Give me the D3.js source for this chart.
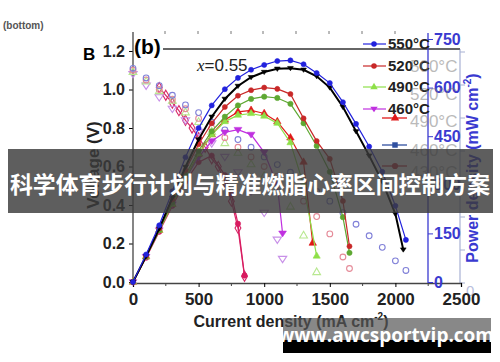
<!DOCTYPE html>
<html>
<head>
<meta charset="utf-8">
<script src="https://cdn.jsdelivr.net/npm/d3@7"></script>
<style>
  body { margin: 0; background: #fff; }
  svg { display: block; font-family: "Liberation Sans", Arial, sans-serif; }
</style>
</head>
<body>
<div id="graph"></div>
<script>
// values (current in mA cm-2, voltage in V, power in mW cm-2)
var cur550 = [0,100,200,300,400,500,600,700,800,900,1000,1100,1200,1300,1400,1500,1600,1700,1800,1900,2000,2080];
var volt550 = [1.11,1.06,1.02,0.97,0.92,0.88,0.83,0.79,0.74,0.70,0.65,0.61,0.57,0.52,0.47,0.42,0.36,0.30,0.24,0.18,0.11,0.06];
var pow550 = [0,85,175,280,385,475,545,595,630,655,670,682,684,672,645,614,555,488,418,340,235,130];

var curBlack = [0,100,200,300,400,500,600,700,800,900,1000,1100,1200,1300,1400,1500,1600,1700,1800,1900,2000,2060];
var powBlack = [0,80,165,260,355,440,510,565,605,632,648,658,660,655,635,600,540,465,390,310,210,100];

var cur520 = [0,100,200,300,400,500,600,700,800,900,1000,1100,1200,1300,1400,1500,1600,1650];
var volt520 = [1.10,1.05,1.00,0.95,0.90,0.85,0.80,0.75,0.70,0.65,0.60,0.55,0.49,0.42,0.34,0.25,0.13,0.07];
var pow520 = [0,80,165,255,345,425,490,540,575,592,600,596,580,505,435,380,250,110];
var powOlive = [0,78,160,245,330,405,465,510,545,565,572,568,550,490,420,340,200,90];

var cur490 = [0,100,200,300,400,500,600,700,800,900,1000,1100,1200,1300,1400];
var volt490 = [1.09,1.04,0.99,0.94,0.88,0.83,0.78,0.72,0.67,0.61,0.55,0.48,0.39,0.24,0.05];
var pow490 = [0,78,160,240,320,395,455,495,515,520,512,490,430,300,80];

var curRed = [0,100,200,300,400,500,600,700,800,900,1000,1100,1200,1300,1370];
var powRed = [0,78,160,240,320,395,455,500,525,530,520,495,445,370,120];

var cur460 = [0,100,200,300,400,500,600,700,800,900,1000,1100,1140];
var volt460 = [1.08,1.02,0.96,0.90,0.84,0.78,0.72,0.65,0.57,0.47,0.36,0.22,0.12];
var pow460 = [0,78,160,240,320,385,435,462,470,455,400,300,150];

var cur430v = [200,250,300,350,400,450,500,550,600,650,700,750,800,850];
var volt430 = [1.01,0.97,0.93,0.89,0.84,0.80,0.75,0.70,0.64,0.60,0.52,0.42,0.28,0.03];
var cur430p = [0,100,200,300,400,500,600,700,750,800,850];
var pow430 = [0,75,155,235,310,370,390,330,270,180,20];

var legendLabels = ["550°C", "520°C", "490°C", "460°C"];
var ghostLabels = ["500°C", "520°C", "490°C", "460°C", "430°C"];
var xTicks = [0, 500, 1000, 1500, 2000, 2500];
var vTicks = [0, 0.2, 0.4, 0.6, 0.8, 1.0, 1.2];
var pTicks = [0, 150, 300, 450, 600, 750];

var width = 500,
    height = 362;

var svg = d3.select('#graph')
    .append('svg')
    .attr('width', width)
    .attr('height', height);

var x = d3.scaleLinear().domain([0, 2500]).range([133, 461]);
var yV = d3.scaleLinear().domain([0, 1.2]).range([282, 51]);
var yP = d3.scaleLinear().domain([0, 750]).range([282, 39]);

var blueAxis = '#3a3ad0';

// little labels top left
svg.append('text').attr('x', 3).attr('y', 29)
    .attr('font-size', 10).attr('font-weight', 'bold').attr('fill', '#555')
    .text('(bottom)');
svg.append('text').attr('x', 83).attr('y', 60)
    .attr('font-size', 17).attr('font-weight', 'bold')
    .text('B');

// ghost top axis ticks and frame line
var ghostTop = svg.append('g');
[165, 198, 231, 263, 296, 329, 362, 395].forEach(function(px) {
    ghostTop.append('line').attr('x1', px).attr('x2', px).attr('y1', 31).attr('y2', 34)
        .attr('stroke', '#777').attr('stroke-width', 1);
});
svg.append('line').attr('x1', 163).attr('x2', 460).attr('y1', 49).attr('y2', 49)
    .attr('stroke', '#333').attr('stroke-width', 1.5);

// ghost right frame axis
var ghostRight = svg.append('g').attr('opacity', 0.6);
ghostRight.append('line').attr('x1', 460).attr('x2', 460).attr('y1', 49).attr('y2', 283)
    .attr('stroke', '#6f7fb8').attr('stroke-width', 1.2);
d3.range(0, 8).forEach(function(i) {
    var py = 283 - i * 33;
    ghostRight.append('line').attr('x1', 460).attr('x2', 465).attr('y1', py).attr('y2', py)
        .attr('stroke', '#6f7fb8');
});
ghostRight.append('text').attr('x', 466).attr('y', 296)
    .attr('font-size', 15).attr('fill', '#8a96c8').text('0');

// left axis
var gV = svg.append('g').attr('transform', 'translate(133,0)')
    .call(d3.axisLeft(yV).tickValues(vTicks).tickSize(4).tickFormat(d3.format('.1f')));
gV.select('.domain').remove();
gV.selectAll('text').attr('font-size', 16).attr('font-weight', 'bold')
    .attr('font-family', '"Liberation Sans", Arial, sans-serif').attr('fill', '#222').attr('dx', -1);
svg.append('line').attr('x1', 133).attr('x2', 133).attr('y1', 32).attr('y2', 283)
    .attr('stroke', '#444').attr('stroke-width', 1.3);

// bottom axis
var gX = svg.append('g').attr('transform', 'translate(0,283)')
    .call(d3.axisBottom(x).tickValues(xTicks).tickSize(4).tickFormat(d3.format('d')));
gX.select('.domain').attr('stroke', '#444').attr('stroke-width', 1.3);
gX.selectAll('text').attr('font-size', 17).attr('font-weight', 'bold')
    .attr('font-family', '"Liberation Sans", Arial, sans-serif').attr('fill', '#222').attr('dy', '0.9em');
d3.range(250, 2500, 500).forEach(function(t) {
    svg.append('line').attr('x1', x(t)).attr('x2', x(t)).attr('y1', 283).attr('y2', 286)
        .attr('stroke', '#444');
});

// right power axis
var gP = svg.append('g').attr('transform', 'translate(428,0)')
    .call(d3.axisRight(yP).tickValues(pTicks).tickSize(5));
gP.select('.domain').attr('stroke', blueAxis).attr('stroke-width', 1.3).attr('d', 'M0,33V283');
gP.selectAll('line').attr('stroke', blueAxis);
gP.selectAll('text').attr('font-size', 16).attr('font-weight', 'bold')
    .attr('font-family', '"Liberation Sans", Arial, sans-serif').attr('fill', blueAxis).attr('x', 6);

// axis titles
svg.append('text').attr('transform', 'translate(99,165) rotate(-90)')
    .attr('text-anchor', 'middle').attr('font-size', 17).attr('font-weight', 'bold')
    .attr('fill', '#222').text('Voltage (V)');
var xTitle = svg.append('text').attr('x', 291).attr('y', 327)
    .attr('text-anchor', 'middle').attr('font-size', 16).attr('font-weight', 'bold').attr('fill', '#222');
xTitle.append('tspan').text('Current density (mA cm');
xTitle.append('tspan').attr('font-size', 10).attr('dy', -7).text('-2');
xTitle.append('tspan').attr('dy', 7).text(')');
var pTitle = svg.append('text').attr('transform', 'translate(478,168) rotate(-90)')
    .attr('text-anchor', 'middle').attr('font-size', 16).attr('font-weight', 'bold').attr('fill', blueAxis);
pTitle.append('tspan').text('Power density (mW cm');
pTitle.append('tspan').attr('font-size', 10).attr('dy', -7).text('-2');
pTitle.append('tspan').attr('dy', 7).text(')');

svg.append('text').attr('x', 134).attr('y', 54)
    .attr('font-size', 21).attr('font-weight', 'bold').text('(b)');
var xl = svg.append('text').attr('x', 197).attr('y', 71).attr('font-size', 17).attr('fill', '#222');
xl.append('tspan').attr('font-family', '"Liberation Serif", serif').attr('font-style', 'italic').text('x');
xl.append('tspan').text('=0.55');

// curves
var plot = svg.append('g');

function drawSeries(cur, vals, yScale, color, symType, filled, size, lineW) {
    var pts = cur.map(function(c, i) { return [x(c), yScale(vals[i])]; });
    var g = plot.append('g');
    if (lineW) {
        g.append('path')
            .attr('d', d3.line()(pts))
            .attr('fill', 'none')
            .attr('stroke', color)
            .attr('stroke-width', lineW);
    }
    g.selectAll('path.m')
        .data(pts)
        .enter()
        .append('path')
        .attr('class', 'm')
        .attr('transform', function(d) { return 'translate(' + d[0] + ',' + d[1] + ')'; })
        .attr('d', d3.symbol().type(symType).size(size))
        .attr('fill', filled ? color : 'none')
        .attr('stroke', color)
        .attr('stroke-width', filled ? 0.6 : 1.1);
}

var triDown = {
    draw: function(context, size) {
        var s = Math.sqrt(size / 0.43) / 2;
        context.moveTo(-s, -s * 0.6);
        context.lineTo(s, -s * 0.6);
        context.lineTo(0, s * 0.9);
        context.closePath();
    }
};

// voltage curves (open symbols)
drawSeries(cur430v, volt430, yV, '#d82868', d3.symbolDiamond, false, 30, 1.2);
drawSeries(cur460, volt460, yV, '#c890e8', triDown, false, 30, 0);
drawSeries(cur490, volt490, yV, '#b8e890', d3.symbolTriangle, false, 26, 0);
drawSeries(cur520, volt520, yV, '#e58a98', d3.symbolCircle, false, 26, 0);
drawSeries(cur550, volt550, yV, '#8080d8', d3.symbolCircle, false, 26, 0);

// power curves (filled symbols)
drawSeries(cur430p, pow430, yP, '#d81b60', d3.symbolCircle, true, 22, 1.2);
drawSeries(cur460, pow460, yP, '#c030e0', triDown, true, 26, 1.2);
drawSeries(curRed, powRed, yP, '#e01818', d3.symbolTriangle, true, 24, 1.2);
drawSeries(cur490, pow490, yP, '#8ee048', d3.symbolTriangle, true, 22, 1.2);
drawSeries(cur520, powOlive, yP, '#5ea832', d3.symbolCircle, true, 22, 1.2);
drawSeries(cur520, pow520, yP, '#c82828', d3.symbolCircle, true, 20, 1.2);
drawSeries(curBlack, powBlack, yP, '#000', triDown, true, 14, 2);
drawSeries(cur550, pow550, yP, '#2222dd', d3.symbolCircle, true, 20, 1.2);

// legend
var legendColors = ['#2222dd', '#c82828', '#8ee048', '#c030e0'];
var legendSyms = [d3.symbolCircle, d3.symbolCircle, d3.symbolTriangle, triDown];
var legendY = [44, 66, 87, 109];
var legend = svg.append('g');
legendLabels.forEach(function(lbl, i) {
    legend.append('line').attr('x1', 363).attr('x2', 386).attr('y1', legendY[i]).attr('y2', legendY[i])
        .attr('stroke', legendColors[i]).attr('stroke-width', 1.2);
    legend.append('path').attr('transform', 'translate(374,' + legendY[i] + ')')
        .attr('d', d3.symbol().type(legendSyms[i]).size(24)).attr('fill', legendColors[i]);
    legend.append('text').attr('x', 388).attr('y', legendY[i] + 5)
        .attr('font-size', 15).attr('font-weight', 'bold').attr('fill', '#222').text(lbl);
});
// ghost legend of the second overlaid figure
var ghostY = [66, 94, 121, 150, 172];
ghostLabels.forEach(function(lbl, i) {
    legend.append('text').attr('x', 410).attr('y', ghostY[i] + 6)
        .attr('font-size', 17).attr('fill', '#777').attr('opacity', 0.5).text(lbl);
});
[[118, '#e01818', d3.symbolTriangle], [145, '#3050a0', d3.symbolSquare], [166, '#c82838', d3.symbolCircle]].forEach(function(r) {
    legend.append('line').attr('x1', 382).attr('x2', 407).attr('y1', r[0]).attr('y2', r[0])
        .attr('stroke', r[1]).attr('stroke-width', 1.3);
    legend.append('path').attr('transform', 'translate(395,' + r[0] + ')')
        .attr('d', d3.symbol().type(r[2]).size(30)).attr('fill', r[1]);
});

// overlay banner
svg.append('rect').attr('x', 8).attr('y', 149).attr('width', 485).attr('height', 64)
    .attr('fill', '#3a3a3a').attr('opacity', 0.82);
svg.append('text').attr('x', 250).attr('y', 193)
    .attr('text-anchor', 'middle')
    .attr('font-family', '"Noto Sans CJK SC", sans-serif')
    .attr('font-size', 23).attr('font-weight', 'bold').attr('fill', '#fff')
    .attr('textLength', 480).attr('lengthAdjust', 'spacingAndGlyphs')
    .text('科学体育步行计划与精准燃脂心率区间控制方案');

// watermark
svg.append('rect').attr('x', 283).attr('y', 318).attr('width', 208).attr('height', 22)
    .attr('fill', '#555').attr('opacity', 0.7);
svg.append('rect').attr('x', 283).attr('y', 340).attr('width', 208).attr('height', 13)
    .attr('fill', '#000');
svg.append('text').attr('x', 386).attr('y', 342)
    .attr('text-anchor', 'middle').attr('font-family', '"Open Sans", "DejaVu Sans", sans-serif')
    .attr('font-size', 19).attr('font-weight', 'bold').attr('fill', '#fff')
    .text('www.awcsportvip.com');
</script>
</body>
</html>
